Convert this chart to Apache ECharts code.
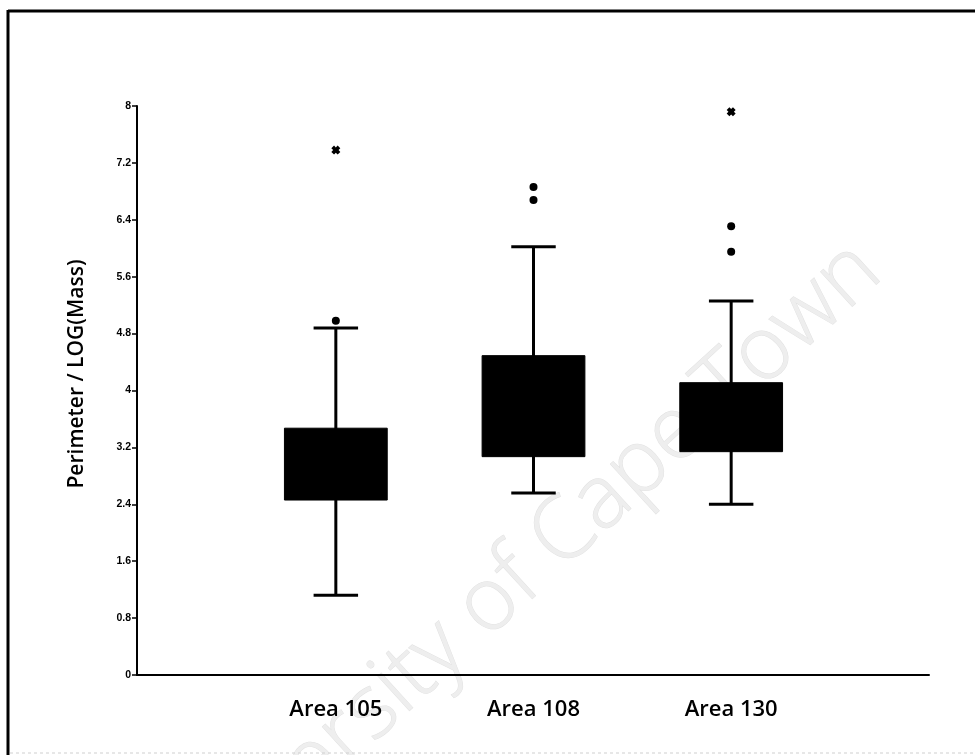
<!DOCTYPE html>
<html>
<head>
<meta charset="utf-8">
<script src="https://cdn.jsdelivr.net/npm/echarts@6/dist/echarts.min.js"></script>
<style>
html,body{margin:0;padding:0;background:#fff;}
#chart{width:975px;height:755px;}
</style>
</head>
<body>
<div id="chart"></div>
<script>
// ---- data ----
var categories = ['Area 105', 'Area 108', 'Area 130'];
var whiskerLow  = [1.12, 2.56, 2.40];
var q1          = [2.46, 3.07, 3.14];
var q3          = [3.47, 4.49, 4.11];
var whiskerHigh = [4.88, 6.02, 5.26];
// outliers: [categoryIndex, value]
var outlierDots  = [[0, 4.98], [1, 6.86], [1, 6.68], [2, 6.31], [2, 5.95]];
var outlierStars = [[0, 7.38], [2, 7.92]];
var yTicks = ['0', '0.8', '1.6', '2.4', '3.2', '4', '4.8', '5.6', '6.4', '7.2', '8'];
var yTitle = 'Perimeter / LOG(Mass)';
var watermark = 'University of Cape Town';

var boxData = categories.map(function (c, i) {
  return [i, whiskerLow[i], q1[i], q3[i], whiskerHigh[i]];
});

var chart = echarts.init(document.getElementById('chart'), null, {renderer: 'canvas'});

var option = {
  animation: false,
  backgroundColor: '#ffffff',
  graphic: [
    {type: 'text', z: -10, x: 868, y: 258, rotation: 0.74,
     style: {text: watermark, fill: '#eeeeee', stroke: '#e2e2e2', lineWidth: 1, font: '300 88px "Open Sans", sans-serif',
             align: 'right', verticalAlign: 'middle'}},
    {type: 'line', shape: {x1: 8, y1: 11, x2: 975, y2: 11}, style: {stroke: '#000', lineWidth: 3}},
    {type: 'line', shape: {x1: 8, y1: 10, x2: 8, y2: 755}, style: {stroke: '#000', lineWidth: 3}},
    {type: 'line', shape: {x1: 10, y1: 753, x2: 975, y2: 753}, style: {stroke: '#d0d0d0', lineWidth: 1, lineDash: [3, 3]}},
    {type: 'text', x: 77, y: 374, rotation: Math.PI / 2,
     style: {text: yTitle, fill: '#000', font: '600 21px "Open Sans", sans-serif', align: 'center', verticalAlign: 'middle'}}
  ],
  grid: [
    {left: 137, right: 46, top: 106, bottom: 80},
    {left: 237, width: 593, top: 106, bottom: 80}
  ],
  xAxis: [
    {type: 'value', gridIndex: 0, min: 0, max: 1,
     axisLine: {show: true, lineStyle: {color: '#000', width: 2}},
     axisTick: {show: false}, axisLabel: {show: false}, splitLine: {show: false}},
    {type: 'category', gridIndex: 1, data: categories, boundaryGap: true,
     axisLine: {show: false}, axisTick: {show: false}, splitLine: {show: false},
     axisLabel: {color: '#000', fontFamily: '"Open Sans", sans-serif', fontWeight: 600, fontSize: 22, margin: 24}}
  ],
  yAxis: [
    {type: 'value', gridIndex: 0, min: 0, max: 8, interval: 0.8,
     axisLine: {show: true, lineStyle: {color: '#000', width: 2}},
     axisTick: {show: true, length: 5, lineStyle: {color: '#000', width: 1.5}},
     splitLine: {show: false},
     axisLabel: {color: '#000', fontFamily: 'Liberation Sans, Arial, sans-serif', fontWeight: 'bold', fontSize: 10.5, margin: 6,
       formatter: function (v) { var i = Math.round(v / 0.8); return yTicks[i] !== undefined ? yTicks[i] : ''; }}},
    {type: 'value', gridIndex: 1, min: 0, max: 8, show: false}
  ],
  series: [
    {
      type: 'custom', xAxisIndex: 1, yAxisIndex: 1, z: 5,
      data: boxData,
      renderItem: function (params, api) {
        var idx = api.value(0);
        var band = api.size([1, 0])[0];
        var boxW = band * 0.52, capW = band * 0.225;
        var pLow = api.coord([idx, api.value(1)]);
        var pQ1 = api.coord([idx, api.value(2)]);
        var pQ3 = api.coord([idx, api.value(3)]);
        var pHigh = api.coord([idx, api.value(4)]);
        var cx = pLow[0];
        var lineStyle = {stroke: '#000', lineWidth: 3};
        return {
          type: 'group',
          children: [
            {type: 'line', shape: {x1: cx, y1: pLow[1], x2: cx, y2: pHigh[1]}, style: lineStyle},
            {type: 'line', shape: {x1: cx - capW / 2, y1: pLow[1], x2: cx + capW / 2, y2: pLow[1]}, style: lineStyle},
            {type: 'line', shape: {x1: cx - capW / 2, y1: pHigh[1], x2: cx + capW / 2, y2: pHigh[1]}, style: lineStyle},
            {type: 'rect', shape: {x: cx - boxW / 2, y: pQ3[1], width: boxW, height: pQ1[1] - pQ3[1]},
             style: {fill: '#000', stroke: '#000', lineWidth: 1}}
          ]
        };
      }
    },
    {
      type: 'scatter', xAxisIndex: 1, yAxisIndex: 1, z: 6,
      data: outlierDots, symbol: 'circle', symbolSize: 8,
      itemStyle: {color: '#000', opacity: 1}
    },
    {
      type: 'scatter', xAxisIndex: 1, yAxisIndex: 1, z: 6,
      data: outlierStars, symbol: 'path://M0,3 L3,0 L5,2 L7,0 L10,3 L8,5 L10,7 L7,10 L5,8 L3,10 L0,7 L2,5 Z', symbolSize: 9,
      itemStyle: {color: '#000', opacity: 1}
    }
  ]
};
chart.setOption(option);
</script>
</body>
</html>
